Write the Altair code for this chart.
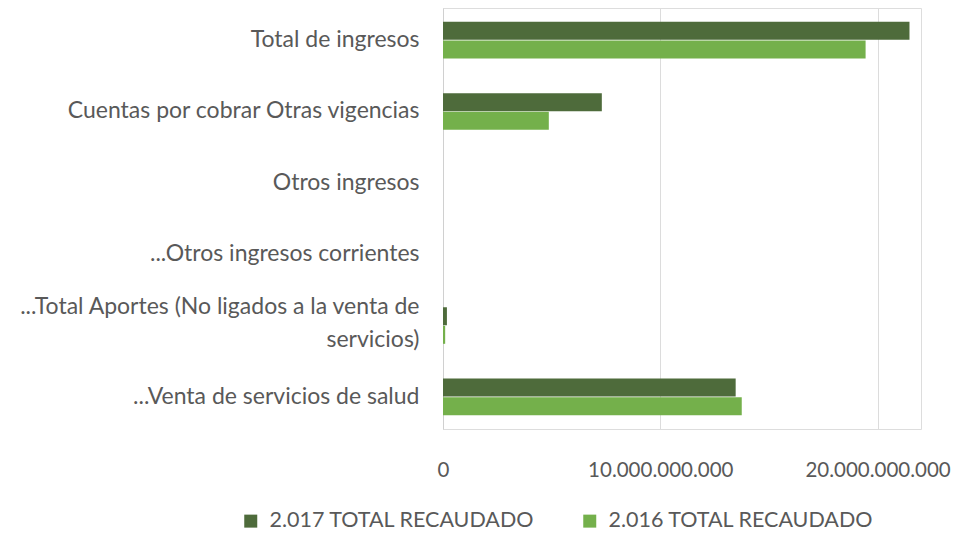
import altair as alt
import pandas as pd

categories = [
    "Total de ingresos",
    "Cuentas por cobrar Otras vigencias",
    "Otros ingresos",
    "...Otros ingresos corrientes",
    "...Total Aportes (No ligados a la venta de servicios)",
    "...Venta de servicios de salud",
]
series = ["2.017 TOTAL RECAUDADO", "2.016 TOTAL RECAUDADO"]
v2017 = [21.47e9, 7.31e9, 0, 0, 0.18e9, 13.47e9]
v2016 = [19.45e9, 4.87e9, 0, 0, 0.10e9, 13.75e9]
x_ticks = [0, 10e9, 20e9]
colors = ["#4e6b3b", "#74b04b"]

rows = []
for c, a, b in zip(categories, v2017, v2016):
    rows.append({"cat": c, "serie": series[0], "valor": a})
    rows.append({"cat": c, "serie": series[1], "valor": b})
df = pd.DataFrame(rows)

FONT = "Lato"
GREY = "#595959"
LONG = "...Total Aportes (No ligados a la venta de servicios)"

label_expr = (
    f"datum.value == '{LONG}' "
    "? ['...Total Aportes (No ligados a la venta de', 'servicios)'] : datum.value"
)

chart = (
    alt.Chart(df)
    .mark_bar(size=18)
    .encode(
        y=alt.Y(
            "cat:N",
            sort=categories,
            title=None,
            scale=alt.Scale(paddingInner=0.48, paddingOuter=0.19),
            axis=alt.Axis(
                labelExpr=label_expr,
                labelFont=FONT,
                labelFontSize=23,
                labelColor=GREY,
                labelLimit=600,
                labelPadding=24,
                labelLineHeight=33,
                labelOffset=alt.condition(f"datum.value == '{LONG}'", alt.value(-19), alt.value(0)),
                ticks=False,
                domain=True,
                domainColor="#d0d0d0",
                grid=False,
            ),
        ),
        yOffset=alt.YOffset("serie:N", sort=series),
        x=alt.X(
            "valor:Q",
            title=None,
            scale=alt.Scale(domain=[0, 22e9], nice=False),
            axis=alt.Axis(
                values=x_ticks,
                labelExpr="replace(format(datum.value, ',.0f'), /,/g, '.')",
                labelFont=FONT,
                labelFontSize=20.5,
                labelColor=GREY,
                labelPadding=31,
                ticks=False,
                domain=False,
                grid=True,
                gridColor="#dcdcdc",
                labelFlush=False,
            ),
        ),
        color=alt.Color(
            "serie:N",
            scale=alt.Scale(domain=series, range=colors),
            legend=alt.Legend(
                title=None,
                orient="none",
                direction="horizontal",
                legendX=-203,
                legendY=502,
                symbolType="square",
                symbolSize=169,
                symbolStrokeWidth=0,
                labelFont=FONT,
                labelFontSize=21.5,
                labelColor=GREY,
                labelLimit=0,
                columnPadding=44,
                labelOffset=8,
            ),
        ),
    )
    .properties(
        width=478,
        height=421,
        autosize=alt.AutoSizeParams(type="none"),
        padding={"left": 435, "top": 0, "right": 33, "bottom": 107},
    )
    .configure_view(stroke=None)
    .configure(background="white")
)

chart.save("out.html", embed_options={"renderer": "svg", "actions": False})
